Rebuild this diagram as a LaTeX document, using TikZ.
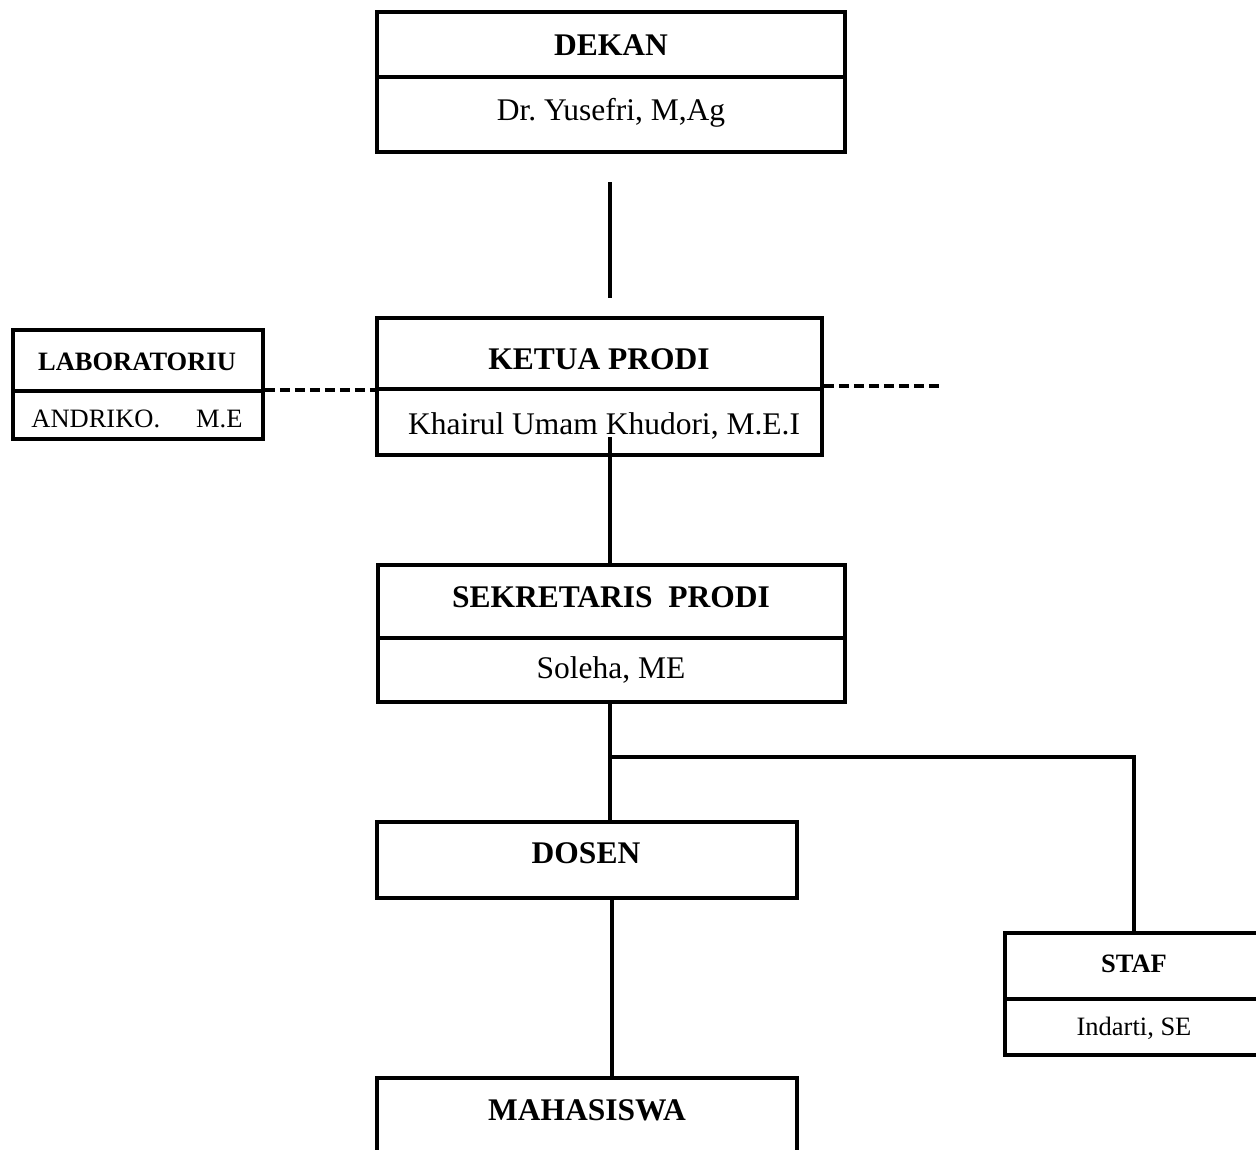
\documentclass[tikz,border=0pt]{standalone}
\usepackage{fontspec}
\setmainfont{Liberation Serif}
\frenchspacing
\tikzset{
  orgbox/.style={draw,line width=3.5pt,inner sep=0pt,rectangle},
  bigtxt/.style={anchor=base,inner sep=0pt,font=\fontsize{31.5}{36}\selectfont},
  smalltxt/.style={anchor=base,inner sep=0pt,font=\fontsize{26.5}{30}\selectfont},
  conn/.style={line width=3.5pt},
  dashconn/.style={line width=3.5pt,dash pattern=on 10pt off 5pt},
}
\begin{document}
\begin{tikzpicture}[x=1pt,y=-1pt]
\useasboundingbox[fill=white] (0,0) rectangle (1256,1149);

% DEKAN
\node[orgbox,minimum width=468pt,minimum height=140pt] (dekan) at (611,82) {};
\draw[conn] (377,77) -- (845,77);
\node[bigtxt] (dekanT) at (611,55) {\textbf{DEKAN}};
\node[bigtxt] (dekanN) at (611,120) {Dr. Yusefri, M,Ag};

% KETUA PRODI
\node[orgbox,minimum width=445pt,minimum height=137pt] (ketua) at (599.5,386.5) {};
\draw[conn] (377,389) -- (822,389);
\node[bigtxt] (ketuaT) at (599,369) {\textbf{KETUA PRODI}};
\node[bigtxt] (ketuaN) at (604,434) {Khairul Umam Khudori, M.E.I};

% LABORATORIUM
\node[orgbox,minimum width=250pt,minimum height=109pt] (lab) at (138,384.5) {};
\draw[conn] (13,391) -- (263,391);
\node[smalltxt] (labT) at (137,370) {\textbf{LABORATORIU}};
\node[smalltxt] (labN) at (137,427) {ANDRIKO.\hspace{36pt}M.E};

% SEKRETARIS PRODI
\node[orgbox,minimum width=467pt,minimum height=137pt] (sek) at (611.5,633.5) {};
\draw[conn] (378,638) -- (845,638);
\node[bigtxt] (sekT) at (611,607) {\textbf{SEKRETARIS\ \ PRODI}};
\node[bigtxt] (sekN) at (611,678) {Soleha, ME};

% DOSEN
\node[orgbox,minimum width=420pt,minimum height=76pt] (dosen) at (587,860) {};
\node[bigtxt] (dosenT) at (586,863) {\textbf{DOSEN}};

% STAF
\node[orgbox,minimum width=258pt,minimum height=122pt] (staf) at (1134,994) {};
\draw[conn] (1005,999) -- (1263,999);
\node[smalltxt] (stafT) at (1134,972) {\textbf{STAF}};
\node[smalltxt] (stafN) at (1134,1035) {Indarti, SE};

% MAHASISWA
\node[orgbox,minimum width=420pt,minimum height=150pt] (mhs) at (587,1153) {};
\node[bigtxt] (mhsT) at (587,1120) {\textbf{MAHASISWA}};

% connectors
\coordinate (d1) at (610,182);
\coordinate (d2) at (610,298);
\draw[conn] (d1) -- (d2);

\coordinate (k1) at (610,437);
\draw[conn] (k1) -- (k1 |- sek.north);

\coordinate (s1) at (610,702);
\coordinate (br) at (610,757);
\draw[conn] (s1) -- (s1 |- dosen.north);
\draw[conn] (br) -- (br -| staf.north) -- (staf.north);

\coordinate (o1) at (612,898);
\draw[conn] (o1) -- (o1 |- mhs.north);

\draw[dashconn] (lab.east |- 0,390) -- (ketua.west |- 0,390);
\coordinate (r1) at (942,386);
\draw[dashconn] (ketua.east |- r1) -- (r1);
\end{tikzpicture}
\end{document}
